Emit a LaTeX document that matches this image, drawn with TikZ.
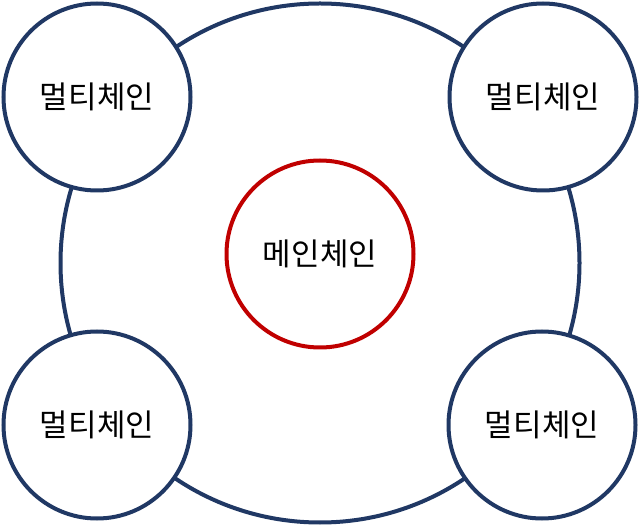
\documentclass[tikz,border=0pt]{standalone}
\usepackage{fontspec}
\newfontfamily\kr{Noto Sans CJK KR}
\definecolor{chainblue}{HTML}{203864}
\definecolor{chainred}{HTML}{C00000}
\tikzset{
  chain/.style={circle,draw=chainblue,line width=4pt,fill=white,inner sep=0pt,
    minimum size=187pt,font=\kr\fontsize{31}{33}\selectfont},
  mainchain/.style={chain,draw=chainred},
}
\begin{document}
\begin{tikzpicture}[x=1pt,y=-1pt]
  \useasboundingbox (0,0) rectangle (640,526);
  % outer ring behind the chains
  \node[circle,draw=chainblue,line width=4pt,inner sep=0pt,minimum size=519pt] (ring) at (320,263) {};
  \node[mainchain] (main) at (320,254) {메인체인};
  \node[chain] (multiA) at (97,97) {멀티체인};
  \node[chain] (multiB) at (543,97) {멀티체인};
  \node[chain] (multiC) at (97,425) {멀티체인};
  \node[chain] (multiD) at (542,425) {멀티체인};
\end{tikzpicture}
\end{document}
